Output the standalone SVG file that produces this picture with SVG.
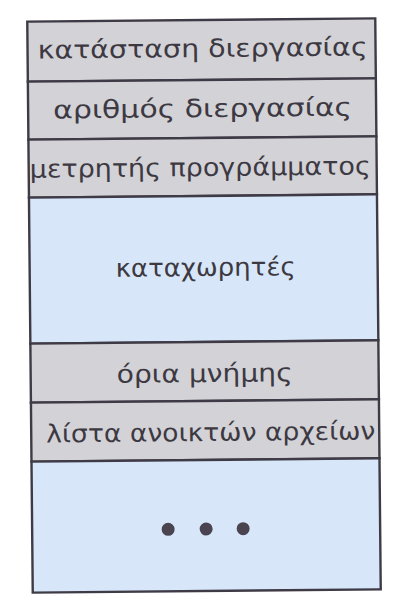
<svg xmlns="http://www.w3.org/2000/svg" width="407" height="616" viewBox="0 0 407 616">
<style>
.gray{fill:#d3d2d7;stroke:#3f3b46;stroke-width:2.4}
.blue{fill:#d7e7f9;stroke:#3f3b46;stroke-width:2.4}
.lbl{font-family:"DejaVu Sans","Noto Sans",sans-serif;font-size:25px;fill:#3d3942}
.dot{fill:#4a4450}
</style>
<rect x="0" y="0" width="407" height="616" fill="#ffffff"/>
<g transform="rotate(-0.55 204 305)">
<g id="process-state">
<rect class="gray" x="30" y="20" width="348" height="60"/>
<text class="lbl" x="40" y="57" textLength="330" lengthAdjust="spacingAndGlyphs">κατάσταση διεργασίας</text>
</g>
<g id="process-number">
<rect class="gray" x="30" y="80" width="348" height="58"/>
<text class="lbl" x="55" y="117" textLength="299" lengthAdjust="spacingAndGlyphs">αριθμός διεργασίας</text>
</g>
<g id="program-counter">
<rect class="gray" x="30" y="138" width="348" height="58"/>
<text class="lbl" x="31" y="176" textLength="341" lengthAdjust="spacingAndGlyphs">μετρητής προγράμματος</text>
</g>
<g id="registers">
<rect class="blue" x="30" y="196" width="348" height="146"/>
<text class="lbl" x="116" y="276" textLength="180" lengthAdjust="spacingAndGlyphs">καταχωρητές</text>
</g>
<g id="memory-limits">
<rect class="gray" x="30" y="342" width="348" height="59"/>
<text class="lbl" x="116" y="382" textLength="176" lengthAdjust="spacingAndGlyphs">όρια μνήμης</text>
</g>
<g id="open-files">
<rect class="gray" x="30" y="401" width="348" height="59"/>
<text class="lbl" x="45" y="441" textLength="329" lengthAdjust="spacingAndGlyphs">λίστα ανοικτών αρχείων</text>
</g>
<g id="more">
<rect class="blue" x="30" y="460" width="348" height="131"/>
<circle class="dot" cx="166" cy="529" r="6.5"/>
<circle class="dot" cx="204" cy="529" r="6.5"/>
<circle class="dot" cx="241" cy="529" r="6.5"/>
</g>
<g id="connectors"></g>
</g>
</svg>
